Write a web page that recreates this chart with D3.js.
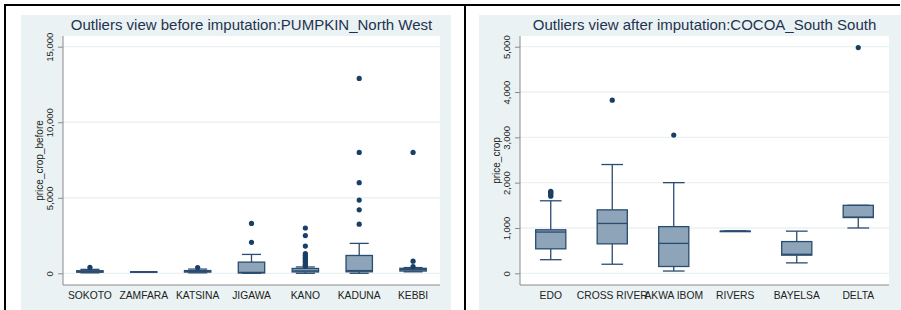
<!DOCTYPE html>
<html>
<head>
<meta charset="utf-8">
<script src="https://cdn.jsdelivr.net/npm/d3@7"></script>
<style>
    body { margin: 0; background: #ffffff; }
    svg  { display: block; font-family: "Liberation Sans", Arial, sans-serif; }
</style>
</head>
<body>
<svg id="chart" width="901" height="310"></svg>
<script>
'use strict';

/*
    Data
*/

const LEFT_TITLE      = 'Outliers view before imputation:PUMPKIN_North West';
const LEFT_Y_TITLE    = 'price_crop_before';
const LEFT_TICKS      = [0, 5000, 10000, 15000];
const LEFT_STATES     = ['SOKOTO', 'ZAMFARA', 'KATSINA', 'JIGAWA', 'KANO', 'KADUNA', 'KEBBI'];
const LEFT_LOWER      = [30, 100, 30, 0, 0, 0, 100];
const LEFT_Q1         = [70, 100, 80, 20, 90, 100, 150];
const LEFT_MEDIAN     = [120, 100, 130, 60, 160, 180, 250];
const LEFT_Q3         = [170, 100, 180, 740, 320, 1180, 330];
const LEFT_UPPER      = [260, 100, 280, 1250, 420, 1980, 380];
const LEFT_OUTLIERS   = [
    [400],
    [],
    [380],
    [3300, 2050],
    [3000, 2500, 1800, 1300, 1200, 1100, 1000, 900, 800, 700, 600, 520, 460],
    [12900, 8000, 6000, 4850, 4200, 3250],
    [8000, 800, 450]
];

const RIGHT_TITLE     = 'Outliers view after imputation:COCOA_South South';
const RIGHT_Y_TITLE   = 'price_crop';
const RIGHT_TICKS     = [0, 1000, 2000, 3000, 4000, 5000];
const RIGHT_STATES    = ['EDO', 'CROSS RIVER', 'AKWA IBOM', 'RIVERS', 'BAYELSA', 'DELTA'];
const RIGHT_LOWER     = [300, 200, 50, 930, 230, 1000];
const RIGHT_Q1        = [540, 650, 150, 930, 400, 1230];
const RIGHT_MEDIAN    = [910, 1100, 660, 930, 420, 1240];
const RIGHT_Q3        = [960, 1400, 1030, 930, 700, 1500];
const RIGHT_UPPER     = [1600, 2400, 2000, 930, 930, 1500];
const RIGHT_OUTLIERS  = [
    [1700, 1730, 1760, 1790, 1810],
    [3820],
    [3050],
    [],
    [],
    [4980]
];

/*
    Constants
*/

const SVG = d3.select('#chart');

const COLORS = Object.freeze({
    PANEL   : '#eaf2f3',
    GRID    : '#eaf2f3',
    AXIS    : '#8a8a8a',
    TEXT    : '#222222',
    TITLE   : '#1f3350',
    FILL    : '#8ea4b9',
    LINE    : '#2a4c70',
    DOT     : '#1a3f66',
    FRAME   : '#000000'
});

const PLOT = Object.freeze({
    TOP      : 36,
    BOTTOM   : 285,
    ZERO_Y   : 273.3,
    MAX_Y    : 46.7,
    BG_TOP   : 15
});

const LEFT_LAYOUT = Object.freeze({
    BG_X    : 21,
    BG_W    : 430,
    LEFT    : 63,
    RIGHT   : 440,
    TITLE_X : 251.5
});

const RIGHT_LAYOUT = Object.freeze({
    BG_X    : 479,
    BG_W    : 422,
    LEFT    : 520,
    RIGHT   : 889,
    TITLE_X : 704.5
});

/*
    Functions
*/

function drawPanel(layout, title, yTitle, ticks, states, lower, q1, median, q3, upper, outliers) {

    const rows = states.map((s, i) => ({
        state : s, lower : lower[i], q1 : q1[i], median : median[i],
        q3 : q3[i], upper : upper[i], outliers : outliers[i]
    }));

    const x = d3.scaleBand()
                  .domain(states)
                  .range([layout.LEFT, layout.RIGHT]);

    const y = d3.scaleLinear()
                  .domain([0, ticks[ticks.length - 1]])
                  .range([PLOT.ZERO_Y, PLOT.MAX_Y]);

    const BOX_W = x.bandwidth() * 0.49;
    const CAP_W = BOX_W * 0.72;

    const g = SVG.append('g');

    // Background of the graph region and the plot region
    g.append('rect')
        .attr('x', layout.BG_X).attr('y', PLOT.BG_TOP)
        .attr('width', layout.BG_W).attr('height', 310 - PLOT.BG_TOP)
        .attr('fill', COLORS.PANEL);

    g.append('rect')
        .attr('x', layout.LEFT).attr('y', PLOT.TOP)
        .attr('width', layout.RIGHT - layout.LEFT).attr('height', PLOT.BOTTOM - PLOT.TOP)
        .attr('fill', '#ffffff');

    // Grid lines
    g.selectAll('.grid')
        .data(ticks)
        .join('line')
          .attr('x1', layout.LEFT).attr('x2', layout.RIGHT)
          .attr('y1', d => y(d)).attr('y2', d => y(d))
          .attr('stroke', COLORS.GRID).attr('stroke-width', 1.3);

    // Y axis
    const yAxis = g.append('g')
                     .attr('transform', `translate(${layout.LEFT},0)`)
                     .call(d3.axisLeft(y).tickValues(ticks).tickFormat(d3.format(',')).tickSize(5).tickSizeOuter(0));

    yAxis.select('.domain').remove();
    yAxis.selectAll('.tick line').attr('stroke', COLORS.AXIS);
    yAxis.selectAll('.tick text')
        .attr('transform', 'rotate(-90)')
        .attr('x', 0).attr('y', -10).attr('dy', 0)
        .attr('text-anchor', 'middle')
        .attr('fill', COLORS.TEXT)
        .style('font-size', '9.5px')
        .style('font-family', '"Liberation Sans", Arial, sans-serif');

    g.append('line')
        .attr('x1', layout.LEFT).attr('x2', layout.LEFT)
        .attr('y1', PLOT.TOP).attr('y2', PLOT.BOTTOM)
        .attr('stroke', COLORS.AXIS);

    g.append('line')
        .attr('x1', layout.LEFT).attr('x2', layout.RIGHT)
        .attr('y1', PLOT.BOTTOM).attr('y2', PLOT.BOTTOM)
        .attr('stroke', COLORS.AXIS);

    // X category labels
    g.selectAll('.xlab')
        .data(states)
        .join('text')
          .attr('x', d => x(d) + x.bandwidth() / 2)
          .attr('y', 299)
          .attr('text-anchor', 'middle')
          .attr('fill', COLORS.TEXT)
          .style('font-size', '10.3px')
          .text(d => d);

    // Titles
    g.append('text')
        .attr('transform', `translate(${layout.LEFT - 20},${(PLOT.TOP + PLOT.BOTTOM) / 2}) rotate(-90)`)
        .attr('text-anchor', 'middle')
        .attr('fill', COLORS.TEXT)
        .style('font-size', '10px')
        .text(yTitle);

    g.append('text')
        .attr('x', layout.TITLE_X).attr('y', 30)
        .attr('text-anchor', 'middle')
        .attr('fill', COLORS.TITLE)
        .style('font-size', '15px')
        .text(title);

    // Boxes
    const box = g.selectAll('.box')
                   .data(rows)
                   .join('g')
                     .attr('transform', d => `translate(${x(d.state) + x.bandwidth() / 2},0)`);

    box.append('line')
        .attr('y1', d => y(d.upper)).attr('y2', d => y(d.q3))
        .attr('stroke', COLORS.LINE).attr('stroke-width', 1.3);

    box.append('line')
        .attr('y1', d => y(d.q1)).attr('y2', d => y(d.lower))
        .attr('stroke', COLORS.LINE).attr('stroke-width', 1.3);

    box.append('line')
        .attr('x1', -CAP_W / 2).attr('x2', CAP_W / 2)
        .attr('y1', d => y(d.upper)).attr('y2', d => y(d.upper))
        .attr('stroke', COLORS.LINE).attr('stroke-width', 1.3);

    box.append('line')
        .attr('x1', -CAP_W / 2).attr('x2', CAP_W / 2)
        .attr('y1', d => y(d.lower)).attr('y2', d => y(d.lower))
        .attr('stroke', COLORS.LINE).attr('stroke-width', 1.3);

    box.append('rect')
        .attr('x', -BOX_W / 2).attr('width', BOX_W)
        .attr('y', d => y(d.q3))
        .attr('height', d => Math.max(0.5, y(d.q1) - y(d.q3)))
        .attr('fill', COLORS.FILL)
        .attr('stroke', COLORS.LINE).attr('stroke-width', 1.3);

    box.append('line')
        .attr('x1', -BOX_W / 2).attr('x2', BOX_W / 2)
        .attr('y1', d => y(d.median)).attr('y2', d => y(d.median))
        .attr('stroke', COLORS.LINE).attr('stroke-width', 1.3);

    box.selectAll('circle')
        .data(d => d.outliers)
        .join('circle')
          .attr('cy', d => y(d))
          .attr('r', 2.6)
          .attr('fill', COLORS.DOT);
}

function drawFrame() {
    const frame = [
        [4, 5, 900, 5],
        [5, 5, 5, 310],
        [465, 5, 465, 310]
    ];
    SVG.selectAll('.frame')
        .data(frame)
        .join('line')
          .attr('x1', d => d[0]).attr('y1', d => d[1])
          .attr('x2', d => d[2]).attr('y2', d => d[3])
          .attr('stroke', COLORS.FRAME).attr('stroke-width', 2);
}

/*
    D3 code
*/

drawPanel(LEFT_LAYOUT, LEFT_TITLE, LEFT_Y_TITLE, LEFT_TICKS, LEFT_STATES,
          LEFT_LOWER, LEFT_Q1, LEFT_MEDIAN, LEFT_Q3, LEFT_UPPER, LEFT_OUTLIERS);

drawPanel(RIGHT_LAYOUT, RIGHT_TITLE, RIGHT_Y_TITLE, RIGHT_TICKS, RIGHT_STATES,
          RIGHT_LOWER, RIGHT_Q1, RIGHT_MEDIAN, RIGHT_Q3, RIGHT_UPPER, RIGHT_OUTLIERS);

drawFrame();
</script>
</body>
</html>
